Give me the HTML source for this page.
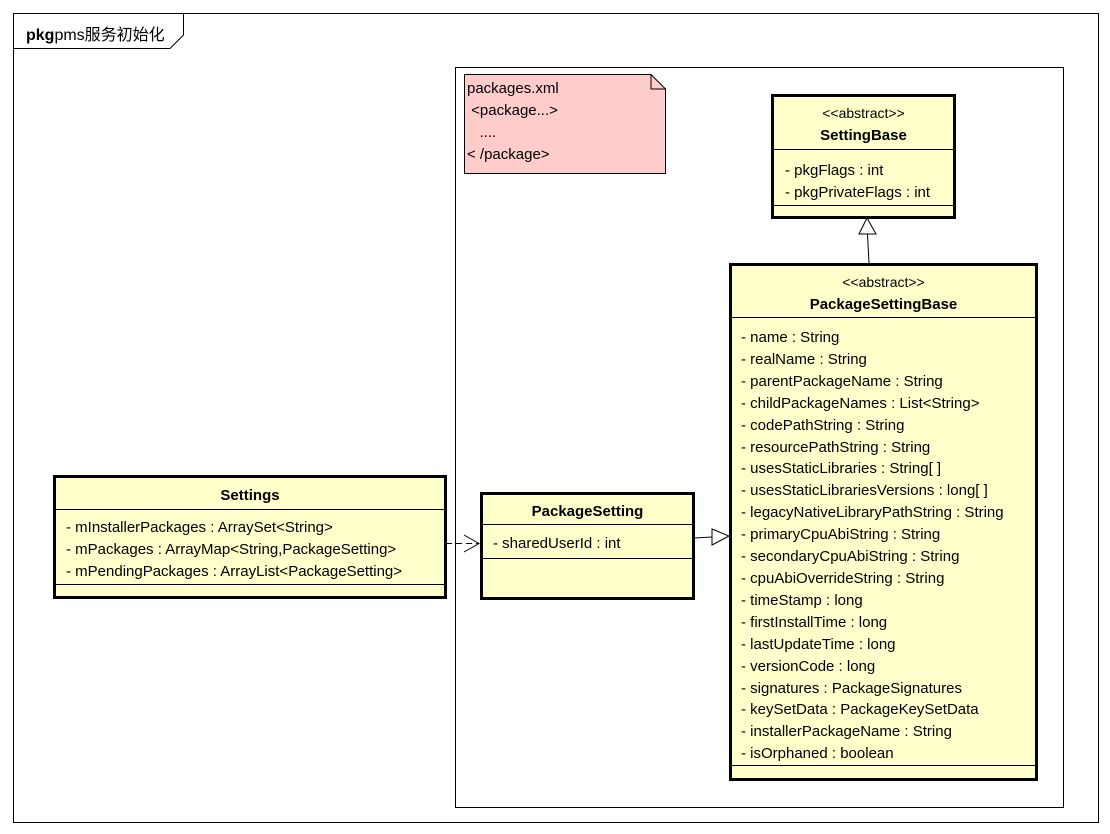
<!DOCTYPE html>
<html><head><meta charset="utf-8"><style>
body{margin:0;width:1110px;height:834px;background:#fff;position:relative;overflow:hidden;font-family:"Liberation Sans","Noto Sans CJK SC",sans-serif;font-size:15px;color:#000}
.a{position:absolute;white-space:nowrap}
.box{position:absolute;background:#ffffcc;border:3px solid #000;box-sizing:border-box}
.ln{position:absolute;left:0;right:0;height:1px;background:#000}
.t{position:absolute;left:0;right:0;text-align:center;font-weight:bold}
.s{position:absolute;left:0;right:0;text-align:center}
</style></head><body>
<svg width="1110" height="834" style="position:absolute;left:0;top:0">
<rect x="13.5" y="13.5" width="1085" height="809" fill="none" stroke="#000"/>
<path d="M13.5 48.5 H170 L183.5 35 V13.5" fill="none" stroke="#000"/>
<rect x="455.5" y="67.5" width="608" height="740" fill="none" stroke="#000"/>
<path d="M464.5 74.5 H651 L665.5 89 V173.5 H464.5 Z" fill="#ffcccc" stroke="#000"/>
<path d="M651 74.5 V89 H665.5" fill="none" stroke="#000"/>
<line x1="446" y1="543.5" x2="478" y2="543.5" stroke="#000" stroke-dasharray="6,4"/>
<path d="M464 535 L479 543.5 L464 552" fill="none" stroke="#000"/>
<line x1="695" y1="538" x2="712" y2="537" stroke="#000"/>
<path d="M712 529 L729 536 L712 545 Z" fill="#fff" stroke="#000"/>
<line x1="869" y1="263" x2="867.5" y2="234" stroke="#000"/>
<path d="M859 234 L867 218 L876 234 Z" fill="#fff" stroke="#000"/>
</svg>
<div class="a" style="left:26px;top:21px;font-size:16px"><b>pkg</b>pms服务初始化</div>
<div class="a" style="left:467px;top:78px;line-height:22px">packages.xml<br>&nbsp;&lt;package...&gt;<br>&nbsp;&nbsp;&nbsp;....<br>&lt; /package&gt;</div>

<div class="box" style="left:771px;top:94px;width:185px;height:125px">
<div class="s" style="top:8px;font-size:14px">&lt;&lt;abstract&gt;&gt;</div>
<div class="t" style="top:30px">SettingBase</div>
<div class="ln" style="top:52px"></div>
<div class="a" style="left:11px;top:63px;line-height:22px">- pkgFlags : int<br>- pkgPrivateFlags : int</div>
<div class="ln" style="top:108px"></div>
</div>

<div class="box" style="left:729px;top:263px;width:309px;height:518px">
<div class="s" style="top:8px;font-size:14px">&lt;&lt;abstract&gt;&gt;</div>
<div class="t" style="top:30px">PackageSettingBase</div>
<div class="ln" style="top:51px"></div>
<div class="a" style="left:9px;top:61px;line-height:21.9px">- name : String<br>- realName : String<br>- parentPackageName : String<br>- childPackageNames : List&lt;String&gt;<br>- codePathString : String<br>- resourcePathString : String<br>- usesStaticLibraries : String[ ]<br>- usesStaticLibrariesVersions : long[ ]<br>- legacyNativeLibraryPathString : String<br>- primaryCpuAbiString : String<br>- secondaryCpuAbiString : String<br>- cpuAbiOverrideString : String<br>- timeStamp : long<br>- firstInstallTime : long<br>- lastUpdateTime : long<br>- versionCode : long<br>- signatures : PackageSignatures<br>- keySetData : PackageKeySetData<br>- installerPackageName : String<br>- isOrphaned : boolean</div>
<div class="ln" style="top:499px"></div>
</div>

<div class="box" style="left:53px;top:475px;width:394px;height:124px">
<div class="t" style="top:9px">Settings</div>
<div class="ln" style="top:31px"></div>
<div class="a" style="left:10px;top:39px;line-height:22px">- mInstallerPackages : ArraySet&lt;String&gt;<br>- mPackages : ArrayMap&lt;String,PackageSetting&gt;<br>- mPendingPackages : ArrayList&lt;PackageSetting&gt;</div>
<div class="ln" style="top:106px"></div>
</div>

<div class="box" style="left:480px;top:492px;width:215px;height:108px">
<div class="t" style="top:8px">PackageSetting</div>
<div class="ln" style="top:29px"></div>
<div class="a" style="left:10px;top:40px">- sharedUserId : int</div>
<div class="ln" style="top:63px"></div>
</div>
</body></html>
